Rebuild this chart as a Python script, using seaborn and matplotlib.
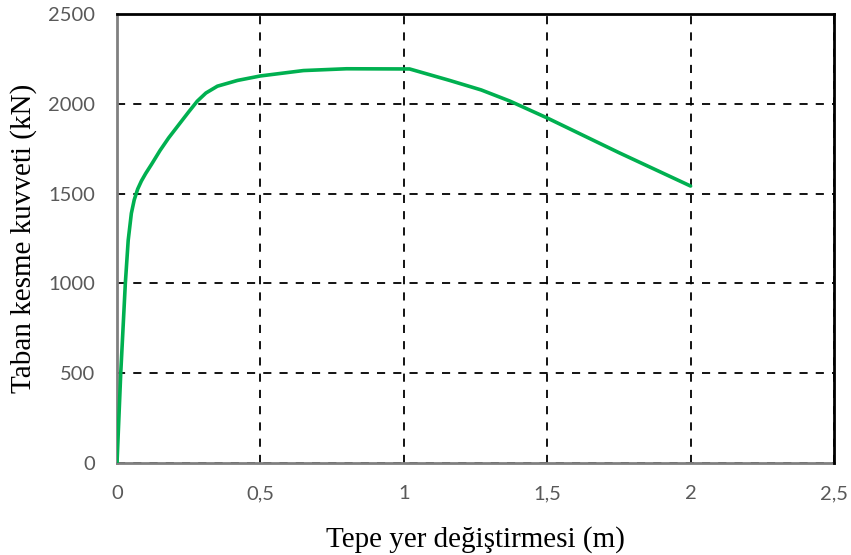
import matplotlib
matplotlib.use("Agg")
import matplotlib.pyplot as plt
import seaborn as sns
import pandas as pd
from matplotlib.ticker import FuncFormatter

displacement = [0.0, 0.013, 0.021, 0.029, 0.039, 0.05, 0.06, 0.072, 0.085, 0.10, 0.12, 0.15, 0.18, 0.22, 0.25,
                0.28, 0.31, 0.35, 0.42, 0.50, 0.65, 0.80, 1.00, 1.02, 1.16, 1.27, 1.37, 1.50, 1.75, 2.00]
base_shear = [0, 500, 750, 1000, 1240, 1390, 1465, 1525, 1570, 1612, 1662, 1740, 1810, 1893, 1955,
              2015, 2060, 2098, 2130, 2155, 2185, 2195, 2194, 2194, 2130, 2077, 2015, 1921, 1728, 1542]
x_ticks = [0, 0.5, 1, 1.5, 2, 2.5]
y_ticks = [0, 500, 1000, 1500, 2000, 2500]
x_label = "Tepe yer değiştirmesi (m)"
y_label = "Taban kesme kuvveti (kN)"

df = pd.DataFrame({"x": displacement, "y": base_shear})

sns.set_style("white")
fig = plt.figure(figsize=(8.51, 5.55), dpi=100)
ax = fig.add_axes([0.1375, 0.1658, 0.8425, 0.809])

sns.lineplot(data=df, x="x", y="y", ax=ax, color="#00B050", linewidth=2.6,
             sort=False, estimator=None, zorder=3)

ax.set_xlim(0, 2.5)
ax.set_ylim(0, 2500)
ax.set_xticks(x_ticks)
ax.set_yticks(y_ticks)
ax.xaxis.set_major_formatter(FuncFormatter(lambda v, p: ("%g" % v).replace(".", ",")))
ax.yaxis.set_major_formatter(FuncFormatter(lambda v, p: "%d" % v))

ax.grid(True, color="black", linestyle=(0, (4.5, 4.5)), linewidth=1.3)
ax.tick_params(axis="both", length=0, labelsize=14.5, labelcolor="#595959")
ax.tick_params(axis="y", pad=16)
ax.tick_params(axis="x", pad=16)
for lab in ax.get_xticklabels() + ax.get_yticklabels():
    lab.set_family(["Lato", "DejaVu Sans"])

for s in ["left", "bottom"]:
    ax.spines[s].set_color("#808080")
    ax.spines[s].set_linewidth(2.0)
for s in ["top", "right"]:
    ax.spines[s].set_color("black")
    ax.spines[s].set_linewidth(2.0)
    ax.spines[s].set_zorder(5)

ax.set_xlabel(x_label, family=["Liberation Serif"], fontsize=21, color="black", labelpad=17)
ax.set_ylabel(y_label, family=["Liberation Serif"], fontsize=21, color="black", labelpad=8)

fig.savefig("out.png", dpi=100)
